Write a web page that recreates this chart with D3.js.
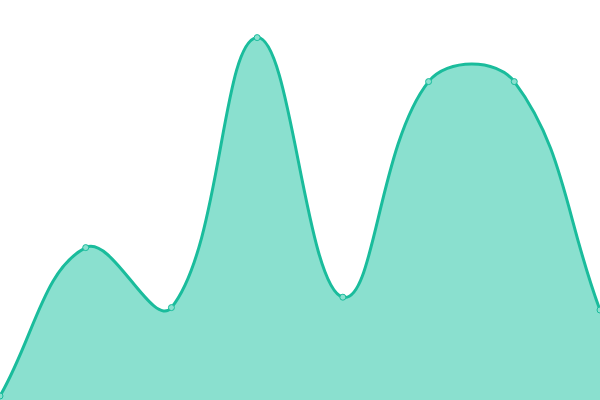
<!DOCTYPE html>
<html>
<head>
<meta charset="utf-8">
<script src="https://cdn.jsdelivr.net/npm/d3@7"></script>
<style>
  html, body { margin: 0; padding: 0; background: #fff; }
  #chart { width: 600px; height: 400px; overflow: hidden; }
</style>
</head>
<body>
<div id="chart"></div>
<script>
// Data
const labels = ['A', 'B', 'C', 'D', 'E', 'F', 'G', 'H'];
const values = [1, 38.1, 23.1, 90.6, 25.7, 79.6, 79.6, 22.5];
const yDomain = [0, 100];

const lineColor = '#1abc9c';
const fillColor = '#8ae0cf';

// Spline like Chart.js line tension (distance weighted control points)
function SplineCurve(context, tension) {
    this._context = context;
    this._t = tension;
}
SplineCurve.prototype = {
    areaStart() { this._line = 0; },
    areaEnd() { this._line = NaN; },
    lineStart() { this._pts = []; },
    point(x, y) { this._pts.push([+x, +y]); },
    lineEnd() {
        const p = this._pts, n = p.length, ctx = this._context, t = this._t;
        if (n) {
            if (this._line) ctx.lineTo(p[0][0], p[0][1]);
            else ctx.moveTo(p[0][0], p[0][1]);
            const cps = p.map((c, i) => {
                const prev = p[Math.max(i - 1, 0)], next = p[Math.min(i + 1, n - 1)];
                const d01 = Math.hypot(c[0] - prev[0], c[1] - prev[1]);
                const d12 = Math.hypot(next[0] - c[0], next[1] - c[1]);
                let s01 = d01 / (d01 + d12), s12 = d12 / (d01 + d12);
                if (isNaN(s01)) s01 = 0;
                if (isNaN(s12)) s12 = 0;
                const dx = next[0] - prev[0], dy = next[1] - prev[1];
                return {
                    prev: [c[0] - t * s01 * dx, c[1] - t * s01 * dy],
                    next: [c[0] + t * s12 * dx, c[1] + t * s12 * dy]
                };
            });
            for (let i = 1; i < n; i++) {
                ctx.bezierCurveTo(cps[i - 1].next[0], cps[i - 1].next[1],
                    cps[i].prev[0], cps[i].prev[1], p[i][0], p[i][1]);
            }
        }
        if (this._line || (this._line !== 0 && n === 1)) ctx.closePath();
        this._line = 1 - this._line;
    }
};
const curveSpline = context => new SplineCurve(context, 0.4);

const width = 600, height = 400;

const svg = d3.select('#chart')
    .append('svg')
    .attr('width', width)
    .attr('height', height);

const x = d3.scalePoint()
    .domain(labels)
    .range([0, width]);

const y = d3.scaleLinear()
    .domain(yDomain)
    .range([height, 0]);

const data = labels.map((l, i) => ({ label: l, value: values[i] }));

const area = d3.area()
    .x(d => x(d.label))
    .y0(y(0))
    .y1(d => y(d.value))
    .curve(curveSpline);

const line = d3.line()
    .x(d => x(d.label))
    .y(d => y(d.value))
    .curve(curveSpline);

svg.append('path')
    .datum(data)
    .attr('d', area)
    .attr('fill', fillColor);

svg.append('path')
    .datum(data)
    .attr('d', line)
    .attr('fill', 'none')
    .attr('stroke', lineColor)
    .attr('stroke-width', 3);

svg.selectAll('circle')
    .data(data)
    .enter()
    .append('circle')
    .attr('cx', d => x(d.label))
    .attr('cy', d => y(d.value))
    .attr('r', 3)
    .attr('fill', fillColor)
    .attr('stroke', lineColor)
    .attr('stroke-width', 1);
</script>
</body>
</html>
